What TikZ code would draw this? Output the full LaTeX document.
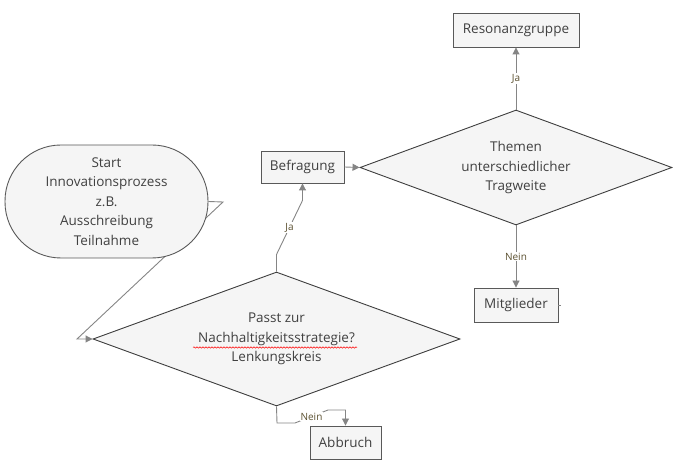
\documentclass[tikz,border=0pt]{standalone}
\usepackage{fontspec}
\setmainfont{Open Sans}
\usetikzlibrary{shapes.geometric,arrows.meta,backgrounds,decorations.pathmorphing}

\definecolor{boxline}{HTML}{595959}
\definecolor{boxfill}{HTML}{F5F5F5}
\definecolor{connline}{HTML}{858585}
\definecolor{nodetext}{HTML}{404040}
\definecolor{lbltext}{HTML}{5B5030}

\tikzset{
  box/.style={draw=boxline,fill=boxfill,line width=0.9pt,text=nodetext,inner sep=0pt,
    align=center,font=\fontsize{13.5}{19.5}\selectfont},
  decision/.style={box,diamond,shape aspect=2.7,draw=boxline!70!black},
  conn/.style={draw=connline,line width=0.9pt},
  arr/.style={conn,-{Triangle[width=7pt,length=7pt]}},
  lbl/.style={fill=white,inner sep=1pt,text=lbltext,font=\fontsize{10}{11}\selectfont}
}

\begin{document}
\begin{tikzpicture}[x=1pt,y=-1pt]
\useasboundingbox (0,0) rectangle (673,462);

%Shapes: boxes and decisions
\node[box,rounded corners=56pt,minimum width=203,minimum height=113] (start) at (106.5,201.5)
  {Start\\Innovationsprozess\\z.B.\\Ausschreibung\\Teilnahme};
\node[decision,minimum width=367,minimum height=134] (passt) at (276.5,339)
  {Passt zur\\Nachhaltigkeitsstrategie?\\Lenkungskreis};
\node[box,minimum width=83,minimum height=32] (befragung) at (302.5,167) {Befragung};
\node[decision,minimum width=312,minimum height=115] (themen) at (516,167.5)
  {Themen\\unterschiedlicher\\Tragweite};
\node[box,minimum width=126,minimum height=34] (resonanz) at (516,30) {Resonanzgruppe};
\node[box,minimum width=84,minimum height=34] (mitglieder) at (516,305) {Mitglieder};
\node[box,minimum width=71,minimum height=33] (abbruch) at (345.5,442.5) {Abbruch};

%Bend points
\coordinate (tail) at (223,202);
\coordinate (foot) at (77,339);
\coordinate (nein1) at (277,423);
\coordinate (nein2) at (295,423);
\coordinate (nein3) at (328,410);
\coordinate (nein4) at (345.5,410);

%Straight Lines
\begin{scope}[on background layer]
\draw[arr] (start.east) -- (tail) -- (foot) -- (passt.west);
\end{scope}
\draw[arr] (passt.north) -- ++(0,-17) -- node[lbl] {Ja} ([yshift=-17pt]befragung.south) -- (befragung.south);
\draw[arr] (befragung.east) -- (themen.west);
\draw[arr] (themen.north) -- node[lbl] {Ja} (resonanz.south);
\draw[arr] (themen.south) -- node[lbl,pos=0.5] {Nein} (mitglieder.north);
\draw[conn] (mitglieder.east) -- ++(3,0);
\draw[arr] (passt.south) -- (nein1) -- (nein2) -- node[lbl] {Nein} (nein3) -- (nein4) -- (abbruch.north);

%Spell check underline
\draw[red,line width=0.5pt,decorate,decoration={snake,amplitude=0.7pt,segment length=3pt}]
  (193,347.5) -- (357,347.5);

\end{tikzpicture}
\end{document}
